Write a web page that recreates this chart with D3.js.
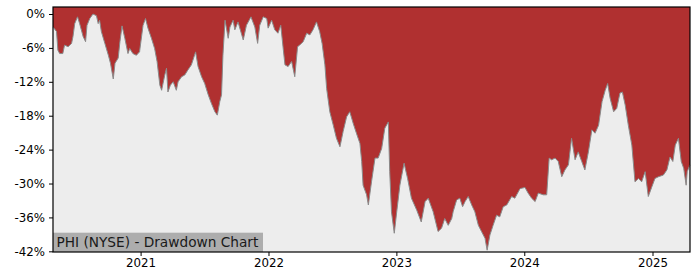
<!DOCTYPE html>
<html><head><meta charset="utf-8">
<script src="https://cdn.jsdelivr.net/npm/d3@7"></script>
<style>body{margin:0;background:#fff;}svg{display:block;font-family:"DejaVu Sans",sans-serif;}</style>
</head><body><svg id="c" width="700" height="280"></svg>
<script>
const dates = ["2020-04-26","2020-05-06","2020-05-10","2020-05-15","2020-05-24","2020-05-29","2020-06-08","2020-06-18","2020-06-22","2020-06-27","2020-07-05","2020-07-11","2020-07-21","2020-07-28","2020-08-01","2020-08-09","2020-08-18","2020-08-28","2020-09-02","2020-09-06","2020-09-11","2020-09-21","2020-10-01","2020-10-07","2020-10-15","2020-10-20","2020-10-29","2020-11-03","2020-11-09","2020-11-17","2020-11-26","2020-12-01","2020-12-10","2020-12-20","2020-12-29","2021-01-08","2021-01-15","2021-01-22","2021-02-01","2021-02-10","2021-02-17","2021-02-25","2021-03-02","2021-03-11","2021-03-16","2021-03-20","2021-03-27","2021-04-04","2021-04-13","2021-04-18","2021-04-28","2021-05-07","2021-05-16","2021-05-26","2021-06-07","2021-06-14","2021-06-24","2021-07-03","2021-07-13","2021-07-22","2021-08-01","2021-08-08","2021-08-15","2021-08-20","2021-08-24","2021-08-30","2021-09-08","2021-09-13","2021-09-22","2021-09-27","2021-10-06","2021-10-21","2021-10-30","2021-11-12","2021-11-23","2021-12-01","2021-12-07","2021-12-17","2021-12-27","2021-12-31","2022-01-10","2022-01-19","2022-01-28","2022-02-05","2022-02-12","2022-02-17","2022-02-26","2022-03-08","2022-03-17","2022-03-25","2022-03-31","2022-04-10","2022-04-20","2022-04-29","2022-05-08","2022-05-18","2022-05-27","2022-06-03","2022-06-11","2022-06-16","2022-06-25","2022-07-05","2022-07-14","2022-07-24","2022-08-02","2022-08-12","2022-08-21","2022-08-31","2022-09-09","2022-09-19","2022-09-24","2022-09-28","2022-10-08","2022-10-13","2022-10-22","2022-11-01","2022-11-10","2022-11-20","2022-11-29","2022-12-09","2022-12-13","2022-12-18","2022-12-26","2023-01-02","2023-01-11","2023-01-23","2023-02-02","2023-02-13","2023-02-28","2023-03-13","2023-03-24","2023-04-02","2023-04-16","2023-04-30","2023-05-10","2023-05-19","2023-05-29","2023-06-08","2023-06-12","2023-06-22","2023-07-01","2023-07-09","2023-07-16","2023-07-25","2023-08-04","2023-08-13","2023-08-23","2023-09-01","2023-09-11","2023-09-17","2023-09-25","2023-10-04","2023-10-14","2023-10-23","2023-11-02","2023-11-12","2023-11-26","2023-12-05","2023-12-20","2024-01-03","2024-01-12","2024-01-22","2024-02-01","2024-02-10","2024-02-24","2024-03-05","2024-03-12","2024-03-19","2024-03-29","2024-04-07","2024-04-17","2024-04-26","2024-05-06","2024-05-15","2024-05-25","2024-06-03","2024-06-13","2024-06-22","2024-07-02","2024-07-12","2024-07-21","2024-07-31","2024-08-10","2024-08-19","2024-08-26","2024-09-02","2024-09-12","2024-09-21","2024-09-30","2024-10-07","2024-10-15","2024-10-24","2024-11-03","2024-11-12","2024-11-22","2024-12-01","2024-12-11","2024-12-20","2024-12-30","2025-01-08","2025-01-18","2025-02-01","2025-02-11","2025-02-20","2025-02-28","2025-03-07","2025-03-16","2025-03-24","2025-03-31","2025-04-07","2025-04-10","2025-04-18"];
const drawdown = [-2.3,-3.1,-6.4,-7.0,-7.0,-5.5,-5.8,-5.2,-4.0,-1.7,-0.5,-1.7,-4.0,-4.9,-2.0,-0.8,0,-0.3,-1.7,-1.1,-3.1,-5.2,-7.3,-8.7,-11.5,-8.7,-7.8,-4.9,-2.1,-4.3,-7.0,-6.1,-7.0,-7.3,-6.7,-2.0,-0.8,-2.5,-4.3,-6.1,-8.4,-12.6,-13.5,-10.8,-9.6,-13.8,-12.6,-12.0,-13.5,-12.0,-11.1,-10.8,-9.9,-9.0,-6.7,-9.3,-11.1,-12.3,-14.3,-15.8,-17.3,-17.9,-15.5,-14.3,-7.3,-1.1,-4.3,-2.3,-1.1,-2.8,-1.4,-4.6,-2.0,-0.5,-2.3,-5.2,-2.0,-0.5,-0.8,-2.5,-1.1,-2.8,-3.4,-2.0,-6.1,-9.0,-9.3,-8.4,-11.1,-5.8,-5.5,-4.9,-3.4,-3.7,-2.8,-1.4,-3.1,-5.2,-9.0,-13.2,-17.3,-19.7,-22.0,-23.5,-20.8,-18.2,-17.3,-19.4,-21.1,-22.9,-26.1,-30.3,-32.0,-33.8,-29.7,-25.5,-25.5,-23.8,-20.2,-19.1,-27.9,-35.0,-38.8,-35.0,-30.3,-26.4,-29.1,-32.6,-34.7,-36.8,-33.2,-32.6,-35.0,-38.5,-37.9,-36.2,-37.4,-36.2,-35.0,-32.9,-32.6,-34.1,-33.2,-32.3,-33.8,-35.0,-37.4,-38.5,-39.7,-41.8,-39.1,-37.4,-35.6,-35.9,-34.1,-33.8,-32.3,-32.6,-30.9,-30.7,-31.7,-32.6,-33.2,-31.7,-32.0,-32.0,-25.5,-25.8,-25.5,-26.1,-28.8,-27.6,-26.7,-22.0,-25.8,-24.4,-26.1,-27.6,-24.4,-20.5,-21.1,-19.7,-15.5,-13.5,-12.3,-14.9,-17.3,-16.7,-14.0,-13.8,-16.1,-19.7,-23.2,-29.7,-29.1,-29.7,-27.9,-32.3,-30.6,-29.1,-28.8,-28.5,-27.6,-25.3,-26.1,-23.2,-22.0,-26.1,-27.3,-30.3,-27.9,-26.7];
const yTicks = [0,-6,-12,-18,-24,-30,-36,-42];
const xTickYears = ["2021","2022","2023","2024","2025"];
const chartLabel = "PHI (NYSE) - Drawdown Chart";

const parse = d3.utcParse("%Y-%m-%d");
const data = dates.map((d,i)=>({date:parse(d), v:drawdown[i]}));
const L=53, R=690, T=7, B=252;
const svg = d3.select("#c");
const x = d3.scaleUtc().domain(d3.extent(data,d=>d.date)).range([L,R]);
const y = d3.scaleLinear().domain([-42.12,1.24]).range([B,T]);

svg.append("rect").attr("x",L).attr("y",T).attr("width",R-L).attr("height",B-T).attr("fill","#ededed");
svg.append("path").datum(data).attr("fill","#b03030")
  .attr("d", d3.area().x(d=>x(d.date)).y0(T).y1(d=>y(d.v)));
svg.append("path").datum(data).attr("fill","none").attr("stroke","#8a8a8a").attr("stroke-width",1)
  .attr("d", d3.line().x(d=>x(d.date)).y(d=>y(d.v)));

// label
const lg = svg.append("g");
lg.append("rect").attr("x",L).attr("y",232.7).attr("width",210).attr("height",B-232.7).attr("fill","#adadad");
lg.append("text").attr("x",L+3.5).attr("y",247).attr("font-size","13.7px").attr("fill","#1a1a1a").text(chartLabel);

// axes
const yAxis = d3.axisLeft(y).tickValues(yTicks).tickFormat(d=>d+"%").tickSize(4).tickPadding(4);
const gy = svg.append("g").attr("transform",`translate(${L},0)`).call(yAxis);
const xAxis = d3.axisBottom(x).tickValues(xTickYears.map(s=>parse(s+"-01-01"))).tickFormat(d3.utcFormat("%Y")).tickSize(4).tickPadding(3);
const gx = svg.append("g").attr("transform",`translate(0,${B})`).call(xAxis);
[gx,gy].forEach(g=>{
  g.select(".domain").remove();
  g.selectAll("text").attr("font-size","11.8px").attr("fill","#000").attr("font-family","DejaVu Sans");
  g.selectAll("line").attr("stroke","#000");
});
svg.append("rect").attr("x",L).attr("y",T).attr("width",R-L).attr("height",B-T)
  .attr("fill","none").attr("stroke","#000").attr("stroke-width",1.2);
</script></body></html>
